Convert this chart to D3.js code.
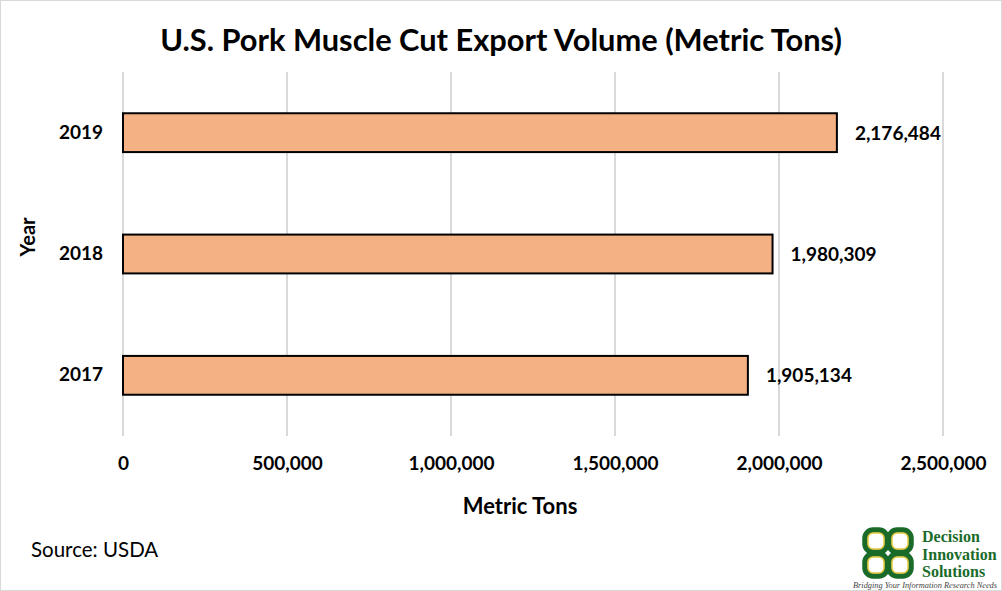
<!DOCTYPE html>
<html>
<head>
<meta charset="utf-8">
<script src="https://cdn.jsdelivr.net/npm/d3@7"></script>
<style>
html,body{margin:0;padding:0;background:#fff;}
svg{display:block;}
</style>
</head>
<body>
<script>
const years = ["2019", "2018", "2017"];
const volumes = [2176484, 1980309, 1905134];
const xTicks = [0, 500000, 1000000, 1500000, 2000000, 2500000];

const W = 1002, H = 591;
const font = "Lato, 'Open Sans', sans-serif";
const svg = d3.select("body").append("svg").attr("width", W).attr("height", H);

svg.append("rect").attr("x", 0.5).attr("y", 0.5).attr("width", W - 1).attr("height", H - 1)
  .attr("fill", "#fff").attr("stroke", "#d9d9d9").attr("stroke-width", 1);

const x = d3.scaleLinear().domain([0, 2500000]).range([123, 943]);
const y = d3.scaleBand().domain(years).range([72, 436]).paddingInner(0.68).paddingOuter(0.34);

// gridlines
svg.append("g").selectAll("line").data(xTicks).join("line")
  .attr("x1", d => x(d)).attr("x2", d => x(d))
  .attr("y1", 72).attr("y2", 436)
  .attr("stroke", "#d9d9d9").attr("stroke-width", 2);

// x axis labels
const xAxis = d3.axisBottom(x).tickValues(xTicks).tickSize(0).tickPadding(0)
  .tickFormat(d3.format(","));
const gx = svg.append("g").attr("transform", "translate(0,456)").call(xAxis);
gx.select(".domain").remove();
gx.selectAll("text").attr("font-family", font).attr("font-weight", "bold")
  .attr("font-size", 19).attr("fill", "#000").attr("dy", "0.71em");

// y axis labels
const yAxis = d3.axisLeft(y).tickSize(0).tickPadding(0);
const gy = svg.append("g").attr("transform", "translate(103,0)").call(yAxis);
gy.select(".domain").remove();
gy.selectAll("text").attr("font-family", font).attr("font-weight", "bold")
  .attr("font-size", 19).attr("fill", "#000");

// bars
const data = years.map((yr, i) => ({ yr, v: volumes[i] }));
svg.append("g").selectAll("rect").data(data).join("rect")
  .attr("x", x(0)).attr("y", d => y(d.yr))
  .attr("width", d => x(d.v) - x(0)).attr("height", y.bandwidth())
  .attr("fill", "#F4B183").attr("stroke", "#000").attr("stroke-width", 2);

// data labels
svg.append("g").selectAll("text").data(data).join("text")
  .attr("x", d => x(d.v) + 18).attr("y", d => y(d.yr) + y.bandwidth() / 2)
  .attr("dy", "0.36em")
  .attr("font-family", font).attr("font-weight", "bold").attr("font-size", 19)
  .text(d => d3.format(",")(d.v));

// title
svg.append("text").attr("x", 501).attr("y", 51).attr("text-anchor", "middle")
  .attr("font-family", font).attr("font-weight", "bold").attr("font-size", 30.8)
  .text("U.S. Pork Muscle Cut Export Volume (Metric Tons)");

// axis titles
svg.append("text").attr("x", 520).attr("y", 514).attr("text-anchor", "middle")
  .attr("font-family", font).attr("font-weight", "bold").attr("font-size", 22)
  .text("Metric Tons");
svg.append("text").attr("transform", "translate(35,237) rotate(-90)").attr("text-anchor", "middle")
  .attr("font-family", font).attr("font-weight", "bold").attr("font-size", 20)
  .text("Year");

// source
svg.append("text").attr("x", 31).attr("y", 557)
  .attr("font-family", font).attr("font-size", 20.5).text("Source: USDA");

// logo
const logo = svg.append("g").attr("transform", "translate(862,527)");
const green = "#1a6b2a", yellow = "#e8c93a";
const cells = [[0,0],[24,0],[0,24],[24,24]];
cells.forEach(([dx,dy]) => {
  logo.append("rect").attr("x", dx + 3).attr("y", dy + 3).attr("width", 22).attr("height", 22)
    .attr("rx", 8).attr("fill", "none").attr("stroke", green).attr("stroke-width", 5.5);
});
cells.forEach(([dx,dy]) => {
  logo.append("rect").attr("x", dx + 6).attr("y", dy + 6).attr("width", 16).attr("height", 16)
    .attr("rx", 5).attr("fill", "none").attr("stroke", yellow).attr("stroke-width", 1.5);
});
const lt = svg.append("g").attr("font-family", "'Liberation Serif', serif")
  .attr("font-weight", "bold").attr("fill", green).attr("font-size", 16);
lt.append("text").attr("x", 922).attr("y", 542).text("Decision");
lt.append("text").attr("x", 922).attr("y", 560).text("Innovation");
lt.append("text").attr("x", 922).attr("y", 577).text("Solutions");
svg.append("text").attr("x", 925).attr("y", 588).attr("text-anchor", "middle")
  .attr("font-family", "'Liberation Serif', serif")
  .attr("font-style", "italic").attr("font-size", 7.2).attr("fill", "#444")
  .attr("textLength", 144).attr("lengthAdjust", "spacingAndGlyphs")
  .text("Bridging Your Information Research Needs");
</script>
</body>
</html>
